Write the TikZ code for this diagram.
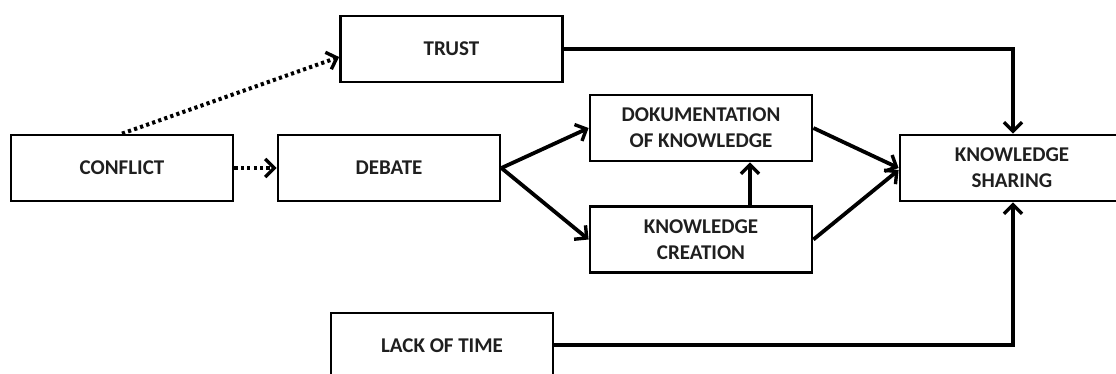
\documentclass[tikz,border=0pt]{standalone}
\usepackage{fontspec}
\setmainfont{Carlito}
\usetikzlibrary{arrows.meta,calc}
\begin{document}
\begin{tikzpicture}[x=1pt,y=-1pt,
  box/.style={draw=black,line width=2.8pt,minimum width=222pt,minimum height=66pt,inner sep=0pt,align=center,font=\fontsize{21}{26}\selectfont\bfseries,text=black!88},
  conn/.style={line width=3.8pt,-{Straight Barb[length=9pt,width=18pt,line width=3.4pt]}},
  dotconn/.style={line width=4pt,dash pattern=on 3.2pt off 3.2pt,-{Straight Barb[length=9pt,width=18pt,line width=3.4pt]}}]
\useasboundingbox (0,0) rectangle (1116,373);
\begin{scope}
\clip (0,0) rectangle (1116,373);
\node[box] (trust) at (451.5,49) {TRUST};
\node[box] (conflict) at (122,168) {CONFLICT};
\node[box] (debate) at (389,168) {DEBATE};
\node[box] (dok) at (701,128) {DOKUMENTATION\\OF KNOWLEDGE};
\node[box] (kc) at (701,239.5) {KNOWLEDGE\\CREATION};
\node[box,minimum width=224pt] (ks) at (1012,168) {KNOWLEDGE\\SHARING};
\node[box] (lack) at (442,346) {LACK OF TIME};
\coordinate (tc) at (1013,49);
\coordinate (lc) at (1013,345);
\draw[dotconn] (conflict.north) -- ($(trust.west)+(0,8)$);
\draw[dotconn] (conflict.east) -- (debate.west);
\draw[conn] (debate.east) -- (dok.west);
\draw[conn] (debate.east) -- (kc.west);
\draw[conn] ($(kc.north)+(49,0)$) -- ($(dok.south)+(49,0)$);
\draw[conn] (dok.east) -- ($(ks.west)+(0,0)$);
\draw[conn] (kc.east) -- ($(ks.west)+(0,2)$);
\draw[conn] (trust.east) -- (tc) -- (tc|-ks.north);
\draw[conn] (lack.east |- lc) -- (lc) -- (lc|-ks.south);
\end{scope}
\end{tikzpicture}
\end{document}
